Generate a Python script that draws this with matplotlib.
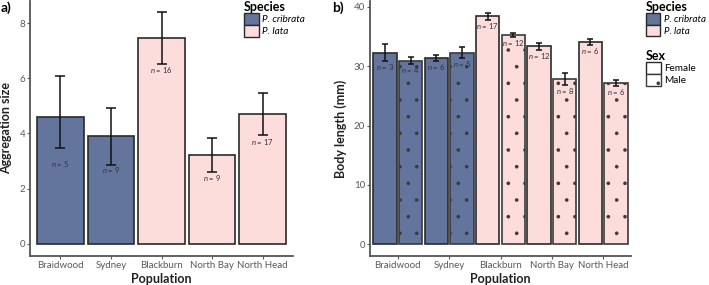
import matplotlib
matplotlib.use('Agg')
import matplotlib.pyplot as plt
import matplotlib.patches as mpatches
import numpy as np

plt.rcParams['font.family'] = ['Lato', 'DejaVu Sans']
plt.rcParams['mathtext.fontset'] = 'custom'
plt.rcParams['mathtext.it'] = 'Lato:italic'
plt.rcParams['mathtext.rm'] = 'Lato'
plt.rcParams['hatch.linewidth'] = 0.2
plt.rcParams['hatch.color'] = '#333333'

# ---- data ----
populations = ['Braidwood', 'Sydney', 'Blackburn', 'North Bay', 'North Head']
species = ['P. cribrata', 'P. cribrata', 'P. lata', 'P. lata', 'P. lata']

# a) aggregation size
agg_mean = [4.60, 3.90, 7.45, 3.22, 4.70]
agg_hi = [6.07, 4.92, 8.39, 3.82, 5.48]
agg_lo = [3.47, 2.86, 6.50, 2.62, 3.93]
agg_n = [5, 9, 16, 9, 17]

# b) body length by sex
female_mean = [32.3, 31.4, 38.4, 33.4, 34.1]
female_se = [1.5, 0.5, 0.55, 0.6, 0.5]
female_n = [3, 6, 17, 12, 6]
male_mean = [30.9, 32.3, 35.2, 27.8, 27.1]
male_se = [0.6, 0.9, 0.35, 1.0, 0.5]
male_n = [4, 5, 12, 8, 6]

colors = {'P. cribrata': '#63759c', 'P. lata': '#fddcdc'}
edge = '#2a2a2a'
spine_c = '#555555'
tick_c = '#5a5a5a'

fig = plt.figure(figsize=(7.09, 2.85), dpi=100)
ax1 = fig.add_axes([30/709, 29/285, 263/709, 255/285])
ax2 = fig.add_axes([370/709, 29/285, 261/709, 255/285])


def style_axis(ax):
    for s in ['top', 'right']:
        ax.spines[s].set_visible(False)
    for s in ['left', 'bottom']:
        ax.spines[s].set_color(spine_c)
        ax.spines[s].set_linewidth(1.3)
    ax.tick_params(axis='both', colors=tick_c, labelsize=7, length=2, width=0.8, pad=1.5)
    ax.set_xlabel('Population', fontsize=9, fontweight='bold', color='#222222', labelpad=2)


# ========== a) ==========
x = np.arange(len(populations))
bar_cols = [colors[s] for s in species]
ax1.bar(x, agg_mean, width=0.92, color=bar_cols, edgecolor=edge, linewidth=1.2, zorder=2)
ax1.errorbar(x, agg_mean,
             yerr=[np.array(agg_mean) - np.array(agg_lo), np.array(agg_hi) - np.array(agg_mean)],
             fmt='none', ecolor='#111111', elinewidth=1.1, capsize=3.4, capthick=1.1, zorder=3)
for xi, m, hi, n in zip(x, agg_mean, agg_hi, agg_n):
    ax1.text(xi, m - (hi - m) - 0.22, f'$n$ = {n}', ha='center', va='center',
             fontsize=5.5, color='#333333', zorder=4)
ax1.set_xlim(-0.6, 4.6)
ax1.set_ylim(-0.44, 8.8)
ax1.set_yticks([0, 2, 4, 6, 8])
ax1.set_xticks(x)
ax1.set_xticklabels(populations)
ax1.set_ylabel('Aggregation size', fontsize=9, fontweight='bold', color='#222222', labelpad=5)
style_axis(ax1)

# ========== b) ==========
off = 0.25
w = 0.455
ax2.bar(x - off, female_mean, width=w, color=bar_cols, edgecolor=edge, linewidth=1.2, zorder=2)
ax2.bar(x + off, male_mean, width=w, color=bar_cols, edgecolor='#3a3a3a', linewidth=1.2,
        hatch='.', zorder=2)
ax2.errorbar(x - off, female_mean, yerr=female_se, fmt='none', ecolor='#111111',
             elinewidth=1.1, capsize=2.4, capthick=1.1, zorder=3)
ax2.errorbar(x + off, male_mean, yerr=male_se, fmt='none', ecolor='#111111',
             elinewidth=1.1, capsize=2.4, capthick=1.1, zorder=3)
for xi, m, se, n in zip(x - off, female_mean, female_se, female_n):
    ax2.text(xi, m - se - 1.0, f'$n$ = {n}', ha='center', va='center',
             fontsize=5.5, color='#333333', zorder=4)
for xi, m, se, n in zip(x + off, male_mean, male_se, male_n):
    ax2.text(xi, m - se - 1.0, f'$n$ = {n}', ha='center', va='center',
             fontsize=5.5, color='#333333', zorder=4)
ax2.set_xlim(-0.54, 4.54)
ax2.set_ylim(-2.0, 41.0)
ax2.set_yticks([0, 10, 20, 30, 40])
ax2.set_xticks(x)
ax2.set_xticklabels(populations)
ax2.set_ylabel('Body length (mm)', fontsize=9, fontweight='bold', color='#222222', labelpad=5)
style_axis(ax2)

# panel letters
fig.text(1/709, 1 - 8/285, 'a)', fontsize=10, fontweight='bold', va='center', ha='left')
fig.text(332/709, 1 - 8/285, 'b)', fontsize=10, fontweight='bold', va='center', ha='left')

# legends
sp_handles = [mpatches.Patch(facecolor=colors[s], edgecolor=edge, linewidth=1.0, label=s)
              for s in ['P. cribrata', 'P. lata']]
sex_handles = [mpatches.Patch(facecolor='white', edgecolor=edge, linewidth=1.0, label='Female'),
               mpatches.Patch(facecolor='white', edgecolor='#3a3a3a', linewidth=1.0,
                              hatch='.', label='Male')]

leg_kw = dict(frameon=False, handlelength=1.45, handleheight=1.45,
              handletextpad=0.4, labelspacing=0.0, borderpad=0, borderaxespad=0,
              alignment='left', loc='upper left')

leg_a = fig.legend(handles=sp_handles, title='Species', bbox_to_anchor=(244/709, 1 - 1/285),
                   prop={'style': 'italic', 'size': 7.2}, **leg_kw)
leg_b = fig.legend(handles=sp_handles, title='Species', bbox_to_anchor=(646/709, 1 - 1/285),
                   prop={'style': 'italic', 'size': 7.0}, **leg_kw)
leg_c = fig.legend(handles=sex_handles, title='Sex', bbox_to_anchor=(646/709, 1 - 50/285),
                   fontsize=7.2, **leg_kw)
for lg in [leg_a, leg_b, leg_c]:
    lg.get_title().set_fontsize(9)
    lg.get_title().set_fontweight('bold')

fig.savefig('out.png', dpi=100)
